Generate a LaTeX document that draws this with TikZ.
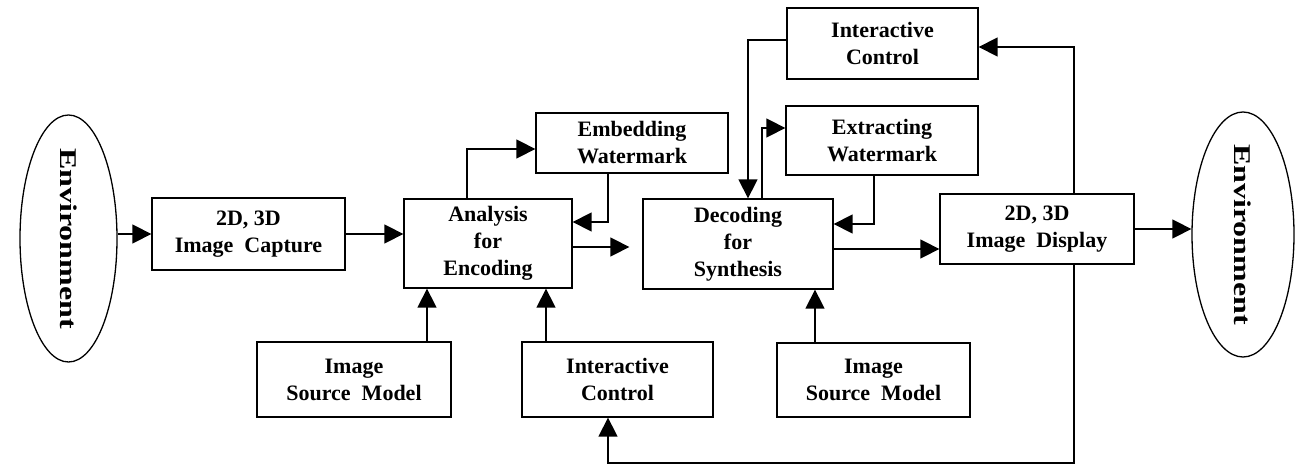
\documentclass[tikz,border=0pt]{standalone}
\usepackage{fontspec}
\setmainfont{Liberation Serif}
\usetikzlibrary{arrows.meta,shapes}
\tikzstyle{block}=[draw,rectangle,line width=1.3pt,align=center,inner sep=0pt,font=\bfseries\fontsize{22}{27}\selectfont]
\tikzstyle{env}=[draw,ellipse,line width=1.3pt,inner sep=0pt]
\tikzstyle{envtext}=[rotate=-90,inner sep=0pt,font=\bfseries\fontsize{32}{32}\selectfont]
\tikzstyle{edge}=[draw,line width=1.4pt,-{Triangle[length=19pt,width=19pt]}]

\begin{document}
\begin{tikzpicture}[x=1pt,y=-1pt]
    \useasboundingbox (0,0) rectangle (1298,470);

    % the blocks
    \foreach \x/\y/\w/\h/\name/\txt in {248.5/234/193/72/capt/{2D, 3D\\Image~~Capture},
        488/243.5/168/89/ana/{Analysis\\for\\Encoding},
        632/143/192/60/emb/{Embedding\\Watermark},
        738/244/190/90/dec/{Decoding\\for\\Synthesis},
        882.5/43.5/191/71/ictop/{Interactive\\Control},
        882/140.5/192/69/ext/{Extracting\\Watermark},
        1037/229/194/70/disp/{2D, 3D\\Image~~Display},
        354/379.5/194/75/ismA/{Image\\Source~~Model},
        617.5/379.5/191/75/icbot/{Interactive\\Control},
        873.5/380/193/74/ismB/{Image\\Source~~Model}}
        \node[block, minimum width=\w pt, minimum height=\h pt] (\name) at (\x,\y) {\txt};

    % the two environments
    \node[env, minimum width=97pt, minimum height=247pt] (envl) at (68.5,238.5) {};
    \node[env, minimum width=102pt, minimum height=245pt] (envr) at (1243,234.5) {};
    \node[envtext] (envlt) at (envl) {\scalebox{1}[0.75]{Environment}};
    \node[envtext] (envrt) at (envr) {\scalebox{1}[0.75]{Environment}};

    % main chain
    \path[edge] (envl.east |- capt.west) -- (capt.west);
    \path[edge] (capt.east) -- (capt.east -| ana.west);
    \path[edge, shorten >=13pt] ([yshift=-3.5pt]ana.east) -- ([yshift=-3.5pt]ana.east -| dec.west);
    \path[edge] (dec.east |- 0,249) -- (disp.west |- 0,249);
    \path[edge] (disp.east) -- (disp.east -| envr.west);

    % models and control into the coders
    \foreach \xx/\source/\dest in {427/ismA/ana, 546/icbot/ana, 815/ismB/dec}
        \path[edge] (\source.north -| \xx,0) -- (\dest.south -| \xx,0);

    % watermark loops
    \path[edge] (ana.north -| 467,0) |- (emb.west |- 0,149);
    \path[edge] (emb.south -| 608,0) |- (ana.east |- 0,222);
    \path[edge] (dec.north -| 762,0) |- (ext.west |- 0,128);
    \path[edge] (ext.south -| 874,0) |- (dec.east |- 0,224);

    % interactive control feedback
    \path[edge] (ictop.west |- 0,40) -| (dec.north -| 748,0);
    \path[edge] (disp.north -| 1074,0) |- (ictop.east |- 0,47);
    \path[edge] (disp.south -| 1074,0) |- (608,463) -- (icbot.south -| 608,0);

\end{tikzpicture}
\end{document}
